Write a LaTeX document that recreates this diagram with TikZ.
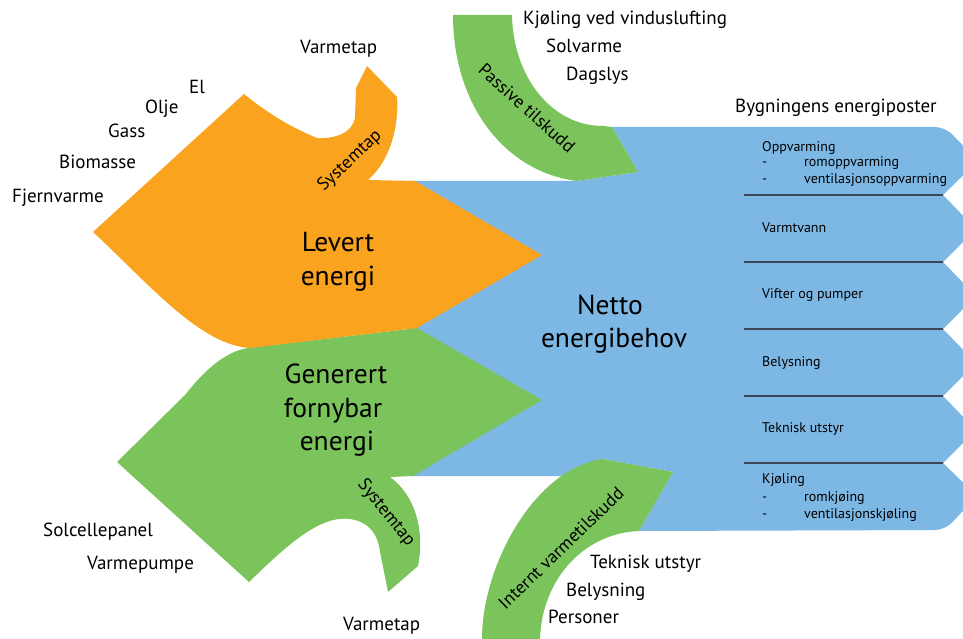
\documentclass[tikz,border=0pt]{standalone}
\usepackage{fontspec}
\setmainfont{PT Sans}
\definecolor{flowblue}{RGB}{125,184,228}
\definecolor{flowgreen}{RGB}{123,195,91}
\definecolor{floworange}{RGB}{249,163,30}
\definecolor{rulegray}{RGB}{60,72,88}
\begin{document}
\begin{tikzpicture}[x=1pt,y=-1pt,
  big/.style={font=\fontsize{27.5}{32}\selectfont, inner sep=0pt, anchor=base},
  lbl/.style={font=\fontsize{19}{22}\selectfont, inner sep=0pt, anchor=base west},
  flowlbl/.style={font=\fontsize{18}{21}\selectfont, inner sep=0pt, anchor=center},
  item/.style={font=\fontsize{14}{16}\selectfont, inner sep=0pt, anchor=base west},
  divider/.style={draw=rulegray, line width=1.1pt}]
\useasboundingbox (0,0) rectangle (963,639);

% net energy demand, split into the building's energy posts
\fill[flowblue] (410,181) -- (577,181) -- (638,172) -- (612,127)
  [rounded corners=10pt] -- (945,127) -- (978,161) [sharp corners] -- (943,195) -- (976,229)
  -- (943,262) -- (976,296) -- (943,329) -- (976,363) -- (943,396) -- (976,430)
  -- (943,463) [rounded corners=10pt] -- (977,496) -- (945,530) [sharp corners]
  -- (639,531) -- (673,472) -- (603,459) -- (563,476) -- (410,476) -- cycle;

% passive gains
\fill[flowgreen] (453,15) -- (512,15)
  .. controls (513,76) and (551,126) .. (603,126) -- (612,127) -- (638,172) -- (577,181)
  .. controls (505,172) and (453,105) .. (453,15) -- cycle;

% internal heat gains
\fill[flowgreen] (482,639) .. controls (482,565) and (535,468) .. (603,459)
  -- (673,472) -- (639,531)
  .. controls (585,533) and (542,578) .. (540,639) -- cycle;

% generated renewable energy with its system loss
\fill[flowgreen] (417,328) -- (248,348)
  .. controls (222,352) and (200,376) .. (185,395) -- (117,462) -- (249,582)
  .. controls (287,545) and (320,515) .. (350,519)
  .. controls (370,522) and (378,535) .. (380,552) -- (388,592) -- (418,566)
  .. controls (425,530) and (415,495) .. (390,477) -- (413,476) -- (542,400) -- cycle;

% delivered energy with its system loss
\fill[floworange] (93,232) -- (244,94)
  .. controls (266,112) and (290,127) .. (317,138)
  .. controls (335,139) and (353,133) .. (355,117)
  -- (356,88) -- (367,66) -- (397,97)
  .. controls (399,125) and (391,160) .. (368,180) -- (415,181) -- (542,255) -- (417,328) -- (250,348)
  .. controls (200,345) and (150,285) .. (93,232) -- cycle;

% dividers between the energy posts
\foreach \yy/\nm in {195/a,262/b,329/c,396/d,463/e}
  \draw[divider] (744,\yy) coordinate (div\nm w) -- (943,\yy) coordinate (div\nm e);

% main flow labels
\node[big] (lev1) at (338,251) {Levert};
\node[big] (lev2) at (338,285) {energi};
\node[big] (net1) at (610,314) {Netto};
\node[big] (net2) at (614,347) {energibehov};
\node[big] (gen1) at (336,383) {Generert};
\node[big] (gen2) at (333,417) {fornybar};
\node[big] (gen3) at (337,450) {energi};

% labels along the bent flows
\node[flowlbl, rotate=43] (systop) at (350,161) {Systemtap};
\node[flowlbl, rotate=-42] (passive) at (527,108) {Passive tilskudd};
\node[flowlbl, rotate=-51] (sysbot) at (386,513) {Systemtap};
\node[flowlbl, rotate=44] (internal) at (561,548) {Internt varmetilskudd};

% energy carriers
\node[lbl] (tapup) at (300,54) {Varmetap};
\node[lbl] (el) at (189,94) {El};
\node[lbl] (olje) at (145,114) {Olje};
\node[lbl] (gass) at (108,138) {Gass};
\node[lbl] (bio) at (59,168) {Biomasse};
\node[lbl] (fjern) at (12,202) {Fjernvarme};

% passive sources
\node[lbl] (kjvind) at (523,25) {Kjøling ved vinduslufting};
\node[lbl] (solv) at (546,53) {Solvarme};
\node[lbl] (dags) at (566,81) {Dagslys};
\node[lbl] (poster) at (735,113) {Bygningens energiposter};

% renewable sources and loss
\node[lbl] (solc) at (43,536) {Solcellepanel};
\node[lbl] (vpumpe) at (87,569) {Varmepumpe};
\node[lbl] (tapdown) at (343,630) {Varmetap};

% internal sources
\node[lbl] (tekn) at (590,568) {Teknisk utstyr};
\node[lbl] (bely) at (566,596) {Belysning};
\node[lbl] (pers) at (548,623) {Personer};

% energy posts
\node[item] (opp) at (762,152) {Oppvarming};
\node[item] (opp1) at (762,167) {\makebox[42pt][l]{-}romoppvarming};
\node[item] (opp2) at (762,183) {\makebox[42pt][l]{-}ventilasjonsoppvarming};
\node[item] (vv) at (762,232) {Varmtvann};
\node[item] (vif) at (762,298) {Vifter og pumper};
\node[item] (bel) at (762,366) {Belysning};
\node[item] (tek) at (762,432) {Teknisk utstyr};
\node[item] (kj) at (762,483) {Kjøling};
\node[item] (kj1) at (762,501) {\makebox[42pt][l]{-}romkjøing};
\node[item] (kj2) at (762,518) {\makebox[42pt][l]{-}ventilasjonskjøling};
\end{tikzpicture}
\end{document}
